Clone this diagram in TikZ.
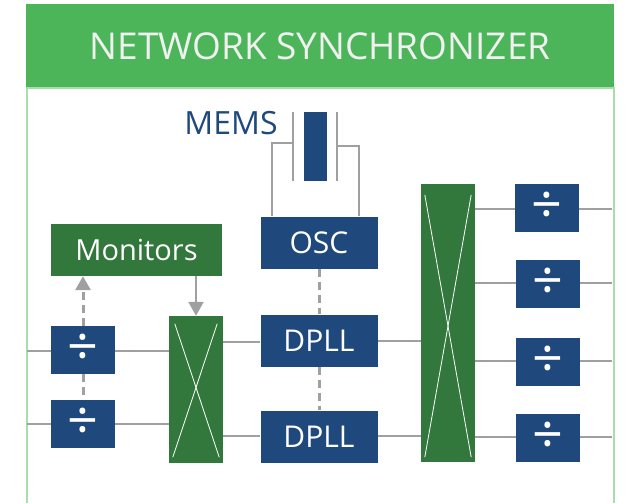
\documentclass[tikz,border=0pt]{standalone}
\usepackage{fontspec}
\setmainfont{Open Sans}
\usetikzlibrary{arrows.meta}
\definecolor{navy}{RGB}{31,73,125}
\definecolor{bannergreen}{RGB}{76,181,90}
\definecolor{framegreen}{RGB}{170,221,172}
\definecolor{darkgreen}{RGB}{50,119,59}
\definecolor{wiregray}{RGB}{160,160,160}

\begin{document}
\begin{tikzpicture}[x=1pt, y=-1pt,
      blk/.style  = {fill=navy, text=white, inner sep=0pt,
                     minimum width=117pt, minimum height=52pt,
                     font=\fontsize{30}{32}\selectfont},
      divbox/.style = {fill=navy, text=white, inner sep=0pt,
                     minimum width=64pt, minimum height=48pt,
                     font=\fontsize{54}{54}\selectfont},
      xbar/.style = {fill=darkgreen, inner sep=0pt, minimum width=54pt},
      wire/.style = {wiregray, line width=2pt},
      dashwire/.style = {wiregray, line width=3pt, dash pattern=on 8pt off 5pt},
      arr/.style  = {-{Triangle[width=15pt,length=14pt]}},
    ]
    \useasboundingbox (0,0) rectangle (626,503);

    % banner and frame
    \fill[bannergreen] (26,4) rectangle (614,88);
    \node[text={rgb,255:red,240;green,240;blue,240},
          font=\fontsize{37}{40}\selectfont] (title) at (320,46) {NETWORK SYNCHRONIZER};
    \draw[framegreen, line width=2pt] (27,503) -- (27,88) -- (614,88) -- (614,503);

    % MEMS resonator
    \node[text=navy, font=\fontsize{32}{34}\selectfont] (memslbl) at (231,123) {MEMS};
    \node[fill=navy, inner sep=0pt, minimum width=23pt, minimum height=69pt] (reso) at (315.5,146.5) {};
    \coordinate (plL) at (293,112);
    \coordinate (plLb) at (293,181);
    \coordinate (plR) at (337,112);
    \coordinate (plRb) at (337,181);
    \draw[wire] (plL) -- (plLb);
    \draw[wire] (plR) -- (plRb);

    % oscillator and loops
    \node[blk] (osc)   at (319,242.5) {OSC};
    \node[blk] (dpllA) at (319,340.5) {DPLL};
    \node[blk] (dpllB) at (319,436.5) {DPLL};

    % monitors and input dividers
    \node[fill=darkgreen, text=white, inner sep=0pt, minimum width=171pt,
          minimum height=52pt, font=\fontsize{29}{31}\selectfont] (mon) at (136.5,250) {Monitors};
    \node[divbox] (dinA) at (83,350) {÷};
    \node[divbox] (dinB) at (83,424) {÷};

    % crossbars
    \node[xbar, minimum height=147pt] (xbarL) at (196,389.5) {};
    \node[xbar, minimum height=278pt] (xbarR) at (448,323) {};
    \draw[white, line width=0.8pt] ([xshift=6pt,yshift=-8pt]xbarL.north west) -- ([xshift=-4pt,yshift=6pt]xbarL.south east);
    \draw[white, line width=0.8pt] ([xshift=-6pt,yshift=-8pt]xbarL.north east) -- ([xshift=4pt,yshift=6pt]xbarL.south west);
    \draw[white, line width=0.8pt] ([xshift=4pt,yshift=-11pt]xbarR.north west) -- ([xshift=-4pt,yshift=5pt]xbarR.south east);
    \draw[white, line width=0.8pt] ([xshift=-4pt,yshift=-11pt]xbarR.north east) -- ([xshift=4pt,yshift=5pt]xbarR.south west);

    % output dividers
    \node[divbox] (doutA) at (547,208) {÷};
    \node[divbox] (doutB) at (548,284) {÷};
    \node[divbox] (doutC) at (548,362) {÷};
    \node[divbox] (doutD) at (548,438) {÷};

    % inputs
    \coordinate (inA) at (27,351);
    \coordinate (inB) at (27,424);
    \draw[wire] (inA) -- (inA -| dinA.west);
    \draw[wire] (inB) -- (inB -| dinB.west);
    \draw[wire] (dinA.east |- inA) -- (xbarL.west |- inA);
    \draw[wire] (dinB.east |- inB) -- (xbarL.west |- inB);

    % crossbar to loops
    \draw[wire] (xbarL.east |- 0,342) -- (dpllA.west |- 0,342);
    \draw[wire] (xbarL.east |- 0,436) -- (dpllB.west |- 0,436);
    \draw[wire] (dpllA.east |- 0,341) -- (xbarR.west |- 0,341);
    \draw[wire] (dpllB.east |- 0,436) -- (xbarR.west |- 0,436);

    % outputs
    \coordinate (outA) at (612,209);
    \coordinate (outB) at (612,283);
    \coordinate (outC) at (612,361);
    \coordinate (outD) at (612,437);
    \draw[wire] (xbarR.east |- outA) -- (doutA.west |- outA);
    \draw[wire] (xbarR.east |- outB) -- (doutB.west |- outB);
    \draw[wire] (xbarR.east |- outC) -- (doutC.west |- outC);
    \draw[wire] (xbarR.east |- outD) -- (doutD.west |- outD);
    \draw[wire] (doutA.east |- outA) -- (outA);
    \draw[wire] (doutB.east |- outB) -- (outB);
    \draw[wire] (doutC.east |- outC) -- (outC);
    \draw[wire] (doutD.east |- outD) -- (outD);

    % resonator leads
    \draw[wire] (plL |- 0,143) -| (osc.north -| 272,0);
    \draw[wire] (plR |- 0,146) -| (osc.north -| 359,0);

    % monitoring and loop links
    \draw[dashwire] (osc) -- (dpllA);
    \draw[dashwire] (dpllA) -- (dpllB);
    \draw[dashwire] (dinA) -- (dinB);
    \draw[dashwire, arr] (dinA.north) -- (mon.south -| dinA);
    \draw[wire, line width=2.4pt, arr] (mon.south -| xbarL) -- (xbarL.north);
  \end{tikzpicture}
\end{document}
